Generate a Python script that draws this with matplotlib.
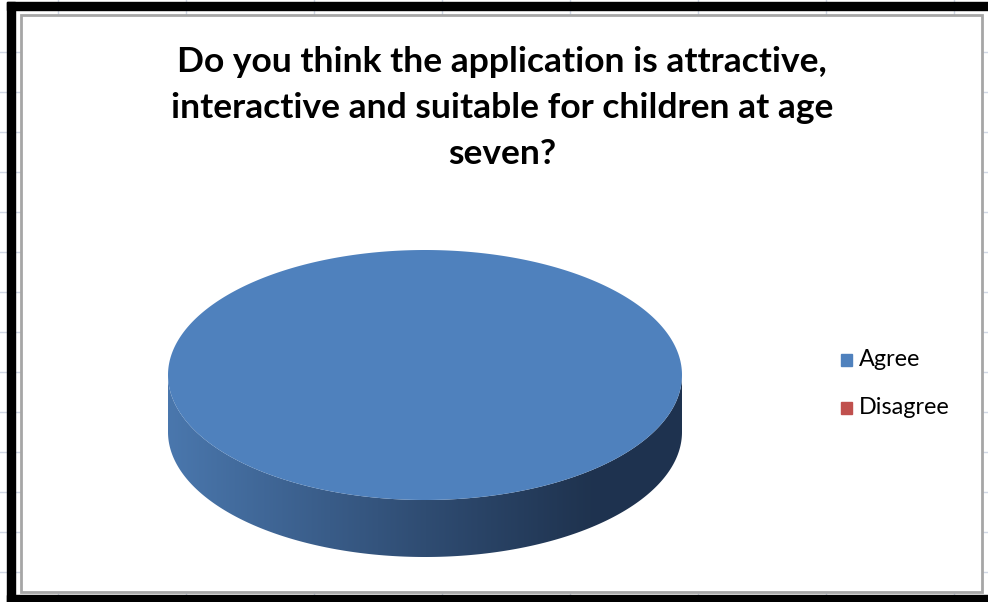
import numpy as np
import matplotlib
matplotlib.use("Agg")
from matplotlib import pyplot as plt
from matplotlib.colors import LinearSegmentedColormap
from matplotlib.patches import Polygon, Rectangle

# data
title = ("Do you think the application is attractive,\n"
         "interactive and suitable for children at age\n"
         "seven?")
labels = ["Agree", "Disagree"]
values = [100, 0]
colors = ["#4f81bd", "#c0504d"]
side_colors = [["#4a77ad", "#2f4c72", "#1f334f", "#1e3250"],
               ["#a04340", "#7a3331", "#5a2524", "#572423"]]

W, H = 988, 602
fig = plt.figure(figsize=(W / 100, H / 100), dpi=100)
ax = fig.add_axes([0, 0, 1, 1])
ax.set_xlim(0, W)
ax.set_ylim(H, 0)
ax.axis("off")

# spreadsheet grid behind the chart
for y in np.arange(52, H, 40):
    ax.axhline(y, color="#d0d7e5", lw=1, zorder=0)
for x in np.arange(58, W, 128):
    ax.axvline(x, color="#d0d7e5", lw=1, zorder=0)

# chart area
ax.add_patch(Rectangle((21, 15), 961, 577, facecolor="white",
                       edgecolor="#a6a6a6", lw=2, zorder=1))
# black frame of the screenshot
ax.add_patch(Rectangle((7, 2), W - 7, 8, color="black", zorder=5))
ax.add_patch(Rectangle((7, 2), 8, H - 2, color="black", zorder=5))
ax.add_patch(Rectangle((7, 595), W - 7, 8, color="black", zorder=5))

# title
ax.text(502, 108, title, ha="center", va="center", fontsize=25.5,
        fontweight="bold", family="Lato", linespacing=1.52, zorder=3)

# 3d pie
cx, cy, rx, ry, depth = 425, 375, 257, 125, 57
fracs = np.array(values, dtype=float) / sum(values)
start = 90.0
bounds = start - np.concatenate([[0], np.cumsum(fracs)]) * 360
for i, f in enumerate(fracs):
    if f <= 0:
        continue
    a1, a2 = bounds[i + 1], bounds[i]
    t = np.radians(np.linspace(a1, a2, 400))
    ex = cx + rx * np.cos(t)
    ey = cy - ry * np.sin(t)

    # visible side (front half of the rim)
    lo, hi = max(a1, -180), min(a2, 0)
    if hi > lo:
        ts = np.radians(np.linspace(lo, hi, 300))
        sx = cx + rx * np.cos(ts)
        sy = cy - ry * np.sin(ts)
        px = np.concatenate([sx, sx[::-1]])
        py = np.concatenate([sy, sy[::-1] + depth])
        side = Polygon(np.column_stack([px, py]), closed=True,
                       facecolor="none", edgecolor="none", zorder=2)
        ax.add_patch(side)
        cmap = LinearSegmentedColormap.from_list(
            "side%d" % i, list(zip([0, 0.5, 0.82, 1], side_colors[i])))
        grad = np.linspace(0, 1, 256).reshape(1, -1)
        im = ax.imshow(grad, cmap=cmap, aspect="auto",
                       extent=[cx - rx, cx + rx, cy + ry + depth, cy - ry],
                       zorder=2, interpolation="bilinear")
        im.set_clip_path(side)

    if f < 1:
        ex = np.concatenate([[cx], ex])
        ey = np.concatenate([[cy], ey])
    ax.add_patch(Polygon(np.column_stack([ex, ey]), closed=True,
                         facecolor=colors[i], edgecolor="none", zorder=3))

ax.set_xlim(0, W)
ax.set_ylim(H, 0)

# legend
for i, (lab, col) in enumerate(zip(labels, colors)):
    ly = 360 + 48 * i
    ax.add_patch(Rectangle((841, ly - 6), 11, 12, color=col, zorder=3))
    ax.text(859, ly, lab, ha="left", va="center", fontsize=16.8,
            family="Lato", zorder=3)

fig.savefig("out.png", dpi=100)
